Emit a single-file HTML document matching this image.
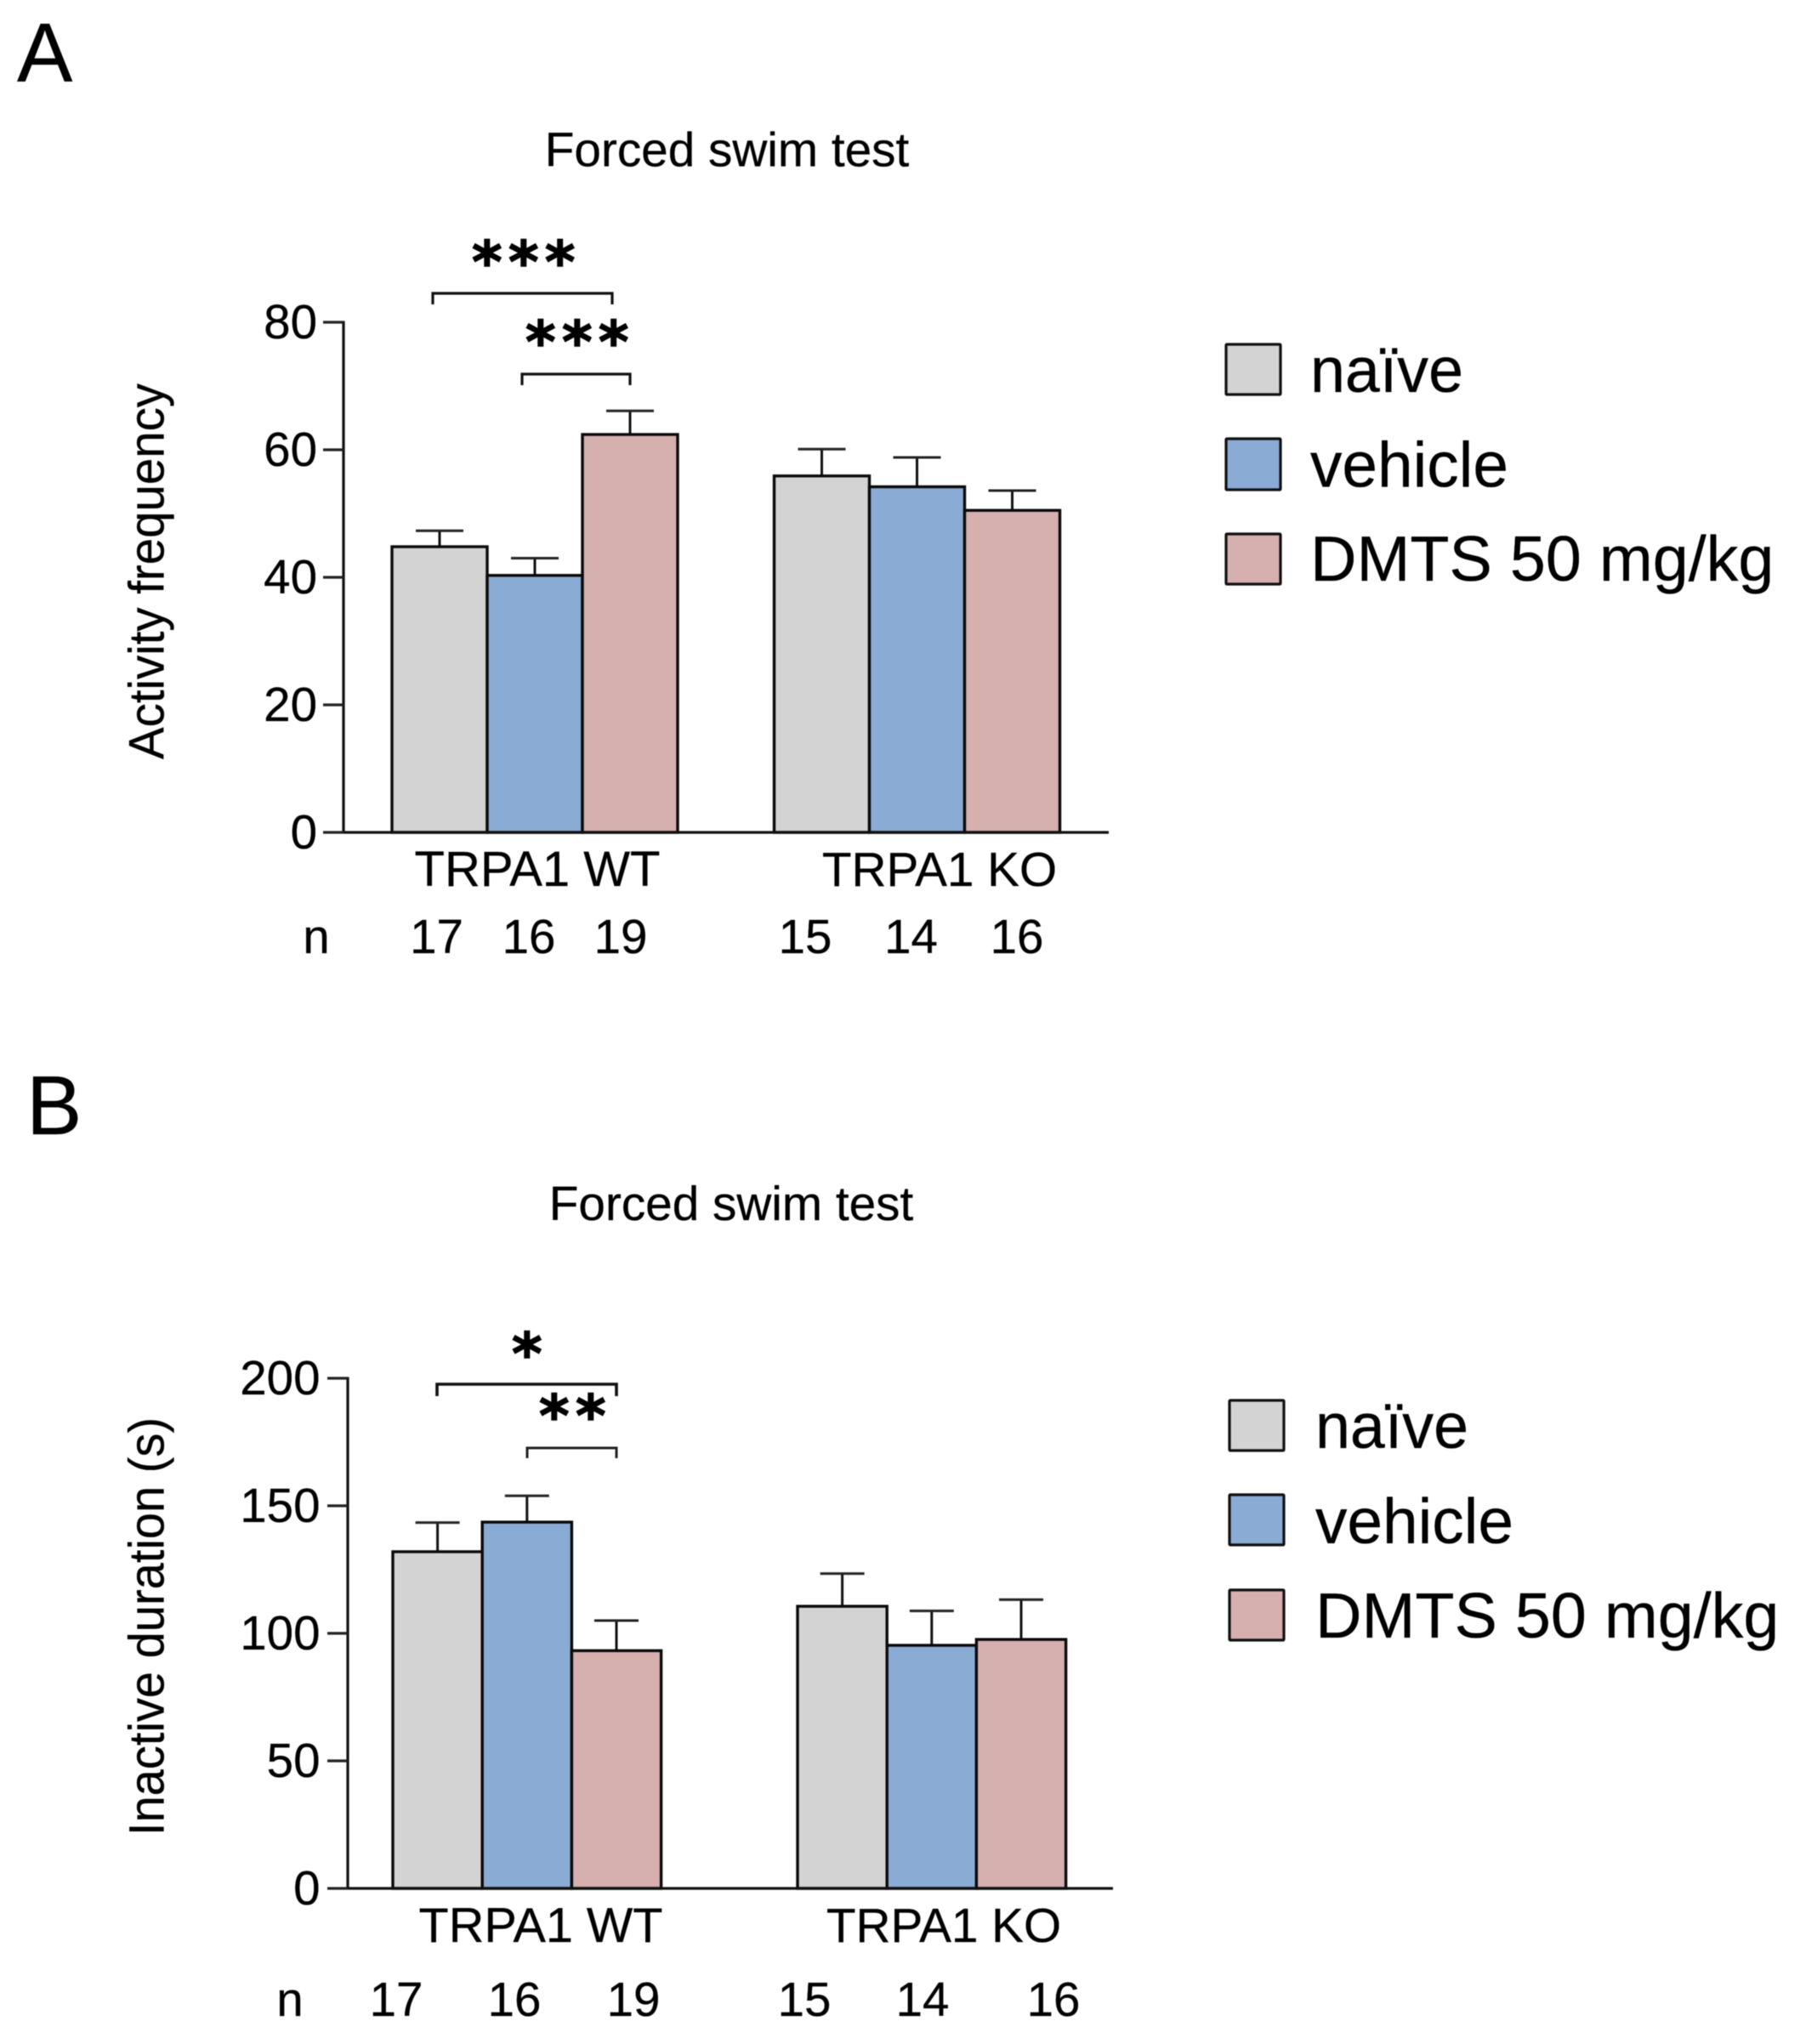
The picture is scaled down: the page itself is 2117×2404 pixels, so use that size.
<!DOCTYPE html>
<html lang="en">
<head>
<meta charset="utf-8">
<title>Forced swim test</title>
<style>
html,body{margin:0;padding:0;background:#fff;width:2117px;height:2404px;overflow:hidden}
svg{display:block;filter:blur(0.5px)}
text{font-family:"Liberation Sans",Arial,sans-serif;fill:#000;stroke:#000;stroke-width:0.3px}
.star{font-family:"DejaVu Sans",sans-serif;font-weight:bold;font-size:68px;letter-spacing:7.4px;stroke-width:1.4px}
</style>
</head>
<body>
<svg id="figure" xmlns="http://www.w3.org/2000/svg" width="2117" height="2404" viewBox="0 0 2117 2404">
  <text x="20" y="96" font-size="98">A</text>
  <text x="855" y="195.5" font-size="56.7" text-anchor="middle">Forced swim test</text>
  <text transform="translate(192.7,672) rotate(-90)" font-size="58" text-anchor="middle" textLength="442" lengthAdjust="spacingAndGlyphs">Activity frequency</text>
  <text x="632" y="1042" font-size="58" text-anchor="middle">TRPA1 WT</text>
  <text x="1105" y="1042" font-size="56.7" text-anchor="middle">TRPA1 KO</text>
  <g font-size="56.5" text-anchor="middle">
    <text x="372" y="1121">n</text>
    <text x="513.5" y="1121">17</text>
    <text x="622" y="1121">16</text>
    <text x="730" y="1121">19</text>
    <text x="947" y="1121">15</text>
    <text x="1071.5" y="1121">14</text>
    <text x="1196" y="1121">16</text>
  </g>
  <g fill="none" stroke="#111" stroke-width="3.2">
    <path d="M509 358V345H720V358"/>
    <path d="M614 453V440H741V453"/>
  </g>
  <text class="star" x="555" y="332">***</text>
  <text class="star" x="618" y="426">***</text>
  <g id="plot-a"></g>

  <g font-size="75.5">
    <rect x="1442" y="405" width="64" height="59" fill="#d3d3d3" stroke="#111" stroke-width="3.2" rx="1"/>
    <text x="1541" y="461" textLength="180" lengthAdjust="spacingAndGlyphs">naïve</text>
    <rect x="1442" y="516" width="64" height="60" fill="#8aabd3" stroke="#111" stroke-width="3.2" rx="1"/>
    <text x="1541" y="572.5" textLength="233" lengthAdjust="spacingAndGlyphs">vehicle</text>
    <rect x="1442" y="628" width="64" height="59" fill="#d6afaf" stroke="#111" stroke-width="3.2" rx="1"/>
    <text x="1541" y="683">DMTS 50 mg/kg</text>
  </g>

  <text x="31" y="1334" font-size="98">B</text>
  <text x="860" y="1435" font-size="56.7" text-anchor="middle">Forced swim test</text>
  <text transform="translate(192.7,1913) rotate(-90)" font-size="58" text-anchor="middle" textLength="492" lengthAdjust="spacingAndGlyphs">Inactive duration (s)</text>
  <text x="636" y="2284" font-size="57.6" text-anchor="middle">TRPA1 WT</text>
  <text x="1110" y="2284" font-size="56.7" text-anchor="middle">TRPA1 KO</text>
  <g font-size="56.5" text-anchor="middle">
    <text x="341" y="2371">n</text>
    <text x="466" y="2371">17</text>
    <text x="605" y="2371">16</text>
    <text x="745" y="2371">19</text>
    <text x="946" y="2371">15</text>
    <text x="1085" y="2371">14</text>
    <text x="1239" y="2371">16</text>
  </g>
  <g fill="none" stroke="#111">
    <path stroke-width="3.6" d="M514 1642V1628H725V1642"/>
    <path stroke-width="3" stroke="#222" d="M620 1715V1703H725V1715"/>
  </g>
  <text class="star" x="602" y="1616">*</text>
  <text class="star" x="634" y="1689">**</text>
  <g id="plot-b"></g>

  <g font-size="75.5">
    <rect x="1446" y="1647" width="64" height="59" fill="#d3d3d3" stroke="#111" stroke-width="3.2" rx="1"/>
    <text x="1547" y="1703" textLength="180" lengthAdjust="spacingAndGlyphs">naïve</text>
    <rect x="1446" y="1758" width="64" height="59" fill="#8aabd3" stroke="#111" stroke-width="3.2" rx="1"/>
    <text x="1547" y="1815" textLength="233" lengthAdjust="spacingAndGlyphs">vehicle</text>
    <rect x="1446" y="1870" width="64" height="59" fill="#d6afaf" stroke="#111" stroke-width="3.2" rx="1"/>
    <text x="1547" y="1926">DMTS 50 mg/kg</text>
  </g>
</svg>
<script>
// Chart data
var treatments = ['naive', 'vehicle', 'dmts'];
var genotypes = ['wt', 'ko'];
var fills = ['#d3d3d3', '#8aabd3', '#d6afaf'];

var activityWt = [44.8, 40.3, 62.4];
var activityKo = [55.9, 54.2, 50.5];
var activityWtErrTop = [47.3, 43.0, 66.1];
var activityKoErrTop = [60.1, 58.8, 53.6];
var activityTicks = [0, 20, 40, 60, 80];

var inactiveWt = [132, 143.6, 93.2];
var inactiveKo = [110.6, 95.3, 97.6];
var inactiveWtErrTop = [143.4, 153.9, 105];
var inactiveKoErrTop = [123.4, 108.8, 113.2];
var inactiveTicks = [0, 50, 100, 150, 200];

var NS = 'http://www.w3.org/2000/svg';

function make(parent, tag, attrs) {
  var el = document.createElementNS(NS, tag);
  for (var k in attrs) el.setAttribute(k, attrs[k]);
  parent.appendChild(el);
  return el;
}

function drawPanel(root, opt) {
  var yMax = opt.ticks[opt.ticks.length - 1];
  function y(v) { return opt.y0 - (v / yMax) * (opt.y0 - opt.yTop); }
  function x(g, i) { return opt.groupStart[g] + i * opt.barW; }

  [opt.wt, opt.ko].forEach(function (series, g) {
    var tops = g === 0 ? opt.wtErr : opt.koErr;
    series.forEach(function (v, i) {
      var cx = x(g, i) + opt.barW / 2;
      var stem = make(root, 'line', { x1: cx, x2: cx, y1: y(v), y2: y(tops[i]), stroke: '#111', 'stroke-width': 3 });
      
      
      var cap = make(root, 'line', { x1: cx - opt.capHalf, x2: cx + opt.capHalf, y1: y(tops[i]), y2: y(tops[i]), stroke: '#222', 'stroke-width': 3 });
      
      
    });
    series.forEach(function (v, i) {
      var bar = make(root, 'rect', { x: x(g, i), y: y(v), width: opt.barW, height: opt.y0 - y(v), fill: fills[i], stroke: '#0a0a0a', 'stroke-width': 3.4 });
      
      
    });
  });

  var yAxis = make(root, 'line', { x1: opt.axisX, x2: opt.axisX, y1: y(yMax) - 1.5, y2: opt.y0 + 1.5, stroke: '#111', 'stroke-width': 3.2 });
  
  
  var xAxis = make(root, 'line', { x1: opt.axisX, x2: opt.axisEnd, y1: opt.y0, y2: opt.y0, stroke: '#111', 'stroke-width': 3.2 });
  
  

  opt.ticks.forEach(function (t) {
    var tick = make(root, 'line', { x1: opt.axisX - 24, x2: opt.axisX, y1: y(t), y2: y(t), stroke: '#222', 'stroke-width': 3.2 });
    
    
    var label = make(root, 'text', { x: opt.tickRight, y: y(t) + 19, 'font-size': 56.5, 'text-anchor': 'end' });
    
    
    label.textContent = t;
  });
}

drawPanel(document.getElementById('plot-a'), {
  wt: activityWt, ko: activityKo, wtErr: activityWtErrTop, koErr: activityKoErrTop,
  ticks: activityTicks, y0: 979, yTop: 379, axisX: 404, axisEnd: 1304, tickRight: 373,
  groupStart: [461, 910.5], barW: 112, capHalf: 28
});
drawPanel(document.getElementById('plot-b'), {
  wt: inactiveWt, ko: inactiveKo, wtErr: inactiveWtErrTop, koErr: inactiveKoErrTop,
  ticks: inactiveTicks, y0: 2221, yTop: 1621, axisX: 409, axisEnd: 1309, tickRight: 376.5,
  groupStart: [462, 938], barW: 105.2, capHalf: 26
});
</script>
</body>
</html>
